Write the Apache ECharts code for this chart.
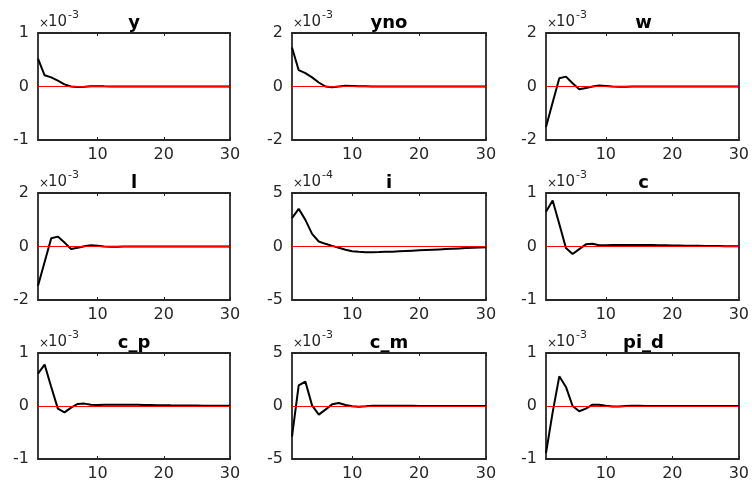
<!DOCTYPE html>
<html>
<head>
<meta charset="utf-8">
<script src="https://cdn.jsdelivr.net/npm/echarts@6/dist/echarts.min.js"></script>
<style>html,body{margin:0;padding:0;background:#fff;}#c{width:752px;height:485px;}</style>
</head>
<body>
<div id="c"></div>
<script>
// ---- data ----
const periods = [1,2,3,4,5,6,7,8,9,10,11,12,13,14,15,16,17,18,19,20,21,22,23,24,25,26,27,28,29,30];
const xTicks = [10, 20, 30];
const names = ['y', 'yno', 'w', 'l', 'i', 'c', 'c_p', 'c_m', 'pi_d'];
const exponents = ['-3', '-3', '-3', '-3', '-4', '-3', '-3', '-3', '-3'];
const yLimits = [1, 2, 2, 2, 5, 1, 1, 5, 1];
// values in units of 10^exponent
const y_vals   = [0.52,0.21,0.17,0.11,0.04,0.0,-0.01,-0.005,0.005,0.005,0.003,0.002,0.001,0.001,0,0,0,0,0,0,0,0,0,0,0,0,0,0,0,0];
const yno_vals = [1.46,0.61,0.50,0.34,0.15,0.0,-0.03,0.0,0.03,0.02,0.01,0.005,0.0,0,0,0,0,0,0,0,0,0,0,0,0,0,0,0,0,0];
const w_vals   = [-1.51,-0.6,0.31,0.37,0.12,-0.1,-0.06,0.0,0.04,0.02,0.0,-0.01,-0.01,0,0,0,0,0,0,0,0,0,0,0,0,0,0,0,0,0];
const l_vals   = [-1.47,-0.58,0.31,0.37,0.15,-0.09,-0.05,0.01,0.05,0.03,0.0,-0.01,-0.01,0,0,0,0,0,0,0,0,0,0,0,0,0,0,0,0,0];
const i_vals   = [2.65,3.52,2.49,1.18,0.47,0.25,0.06,-0.12,-0.3,-0.44,-0.5,-0.53,-0.53,-0.52,-0.50,-0.48,-0.45,-0.42,-0.39,-0.36,-0.33,-0.30,-0.27,-0.24,-0.21,-0.18,-0.15,-0.12,-0.09,-0.07];
const c_vals   = [0.65,0.86,0.42,-0.03,-0.14,-0.05,0.04,0.05,0.025,0.025,0.03,0.03,0.03,0.03,0.03,0.028,0.026,0.024,0.022,0.02,0.018,0.016,0.014,0.012,0.01,0.009,0.008,0.007,0.006,0.005];
const c_p_vals = [0.61,0.78,0.36,-0.05,-0.12,-0.03,0.04,0.045,0.025,0.02,0.025,0.025,0.025,0.024,0.023,0.022,0.02,0.018,0.016,0.014,0.012,0.011,0.01,0.009,0.008,0.007,0.006,0.005,0.004,0.003];
const c_m_vals = [-2.9,1.94,2.3,0.06,-0.81,-0.34,0.16,0.28,0.1,-0.03,-0.06,-0.03,0.02,0.03,0.03,0.03,0.02,0.02,0.02,0.01,0.01,0.01,0.01,0.01,0.01,0,0,0,0,0];
const pi_d_vals= [-0.89,-0.12,0.56,0.36,0.0,-0.1,-0.05,0.025,0.025,0.005,-0.01,-0.01,0.0,0.005,0.005,0,0,0,0,0,0,0,0,0,0,0,0,0,0,0];
const seriesValues = [y_vals, yno_vals, w_vals, l_vals, i_vals, c_vals, c_p_vals, c_m_vals, pi_d_vals];

// ---- layout ----
const colLeft = [38, 292, 546];
const colWidth = [192, 194, 195];
const rowTop = [33, 193, 353];
const rowHeight = [107, 107, 106];
const axisColor = '#262626';
const FONT = 'DejaVu Sans';

const grids = [], xAxes = [], yAxes = [], series = [], graphics = [];
names.forEach((name, k) => {
  const r = Math.floor(k / 3), c = k % 3;
  const L = colLeft[c], T = rowTop[r], W = colWidth[c], H = rowHeight[r];
  grids.push({left: L, top: T, width: W, height: H, containLabel: false});
  const lim = yLimits[k];
  const axLine = {show: true, onZero: false, lineStyle: {color: axisColor, width: 1.8}};
  xAxes.push({
    gridIndex: k, type: 'value', min: 1, max: 30, position: 'bottom',
    axisLine: axLine, splitLine: {show: false},
    axisTick: {show: true, inside: true, length: 3, customValues: xTicks, lineStyle: {color: axisColor, width: 1}},
    axisLabel: {show: true, customValues: xTicks, fontFamily: FONT, fontSize: 16, color: axisColor, margin: 7}
  });
  xAxes.push({
    gridIndex: k, type: 'value', min: 1, max: 30, position: 'top',
    axisLine: axLine, splitLine: {show: false},
    axisTick: {show: true, inside: true, length: 3, customValues: xTicks, lineStyle: {color: axisColor, width: 1}},
    axisLabel: {show: false}
  });
  yAxes.push({
    gridIndex: k, type: 'value', min: -lim, max: lim, interval: lim, position: 'left',
    axisLine: axLine, splitLine: {show: false},
    axisTick: {show: true, inside: true, length: 3, lineStyle: {color: axisColor, width: 1}},
    axisLabel: {show: true, fontFamily: FONT, fontSize: 16, color: axisColor, margin: 9}
  });
  yAxes.push({
    gridIndex: k, type: 'value', min: -lim, max: lim, interval: lim, position: 'right',
    axisLine: axLine, splitLine: {show: false},
    axisTick: {show: true, inside: true, length: 3, lineStyle: {color: axisColor, width: 1}},
    axisLabel: {show: false}
  });
  series.push({
    type: 'line', xAxisIndex: 2 * k, yAxisIndex: 2 * k,
    data: periods.map((p, j) => [p, seriesValues[k][j]]),
    showSymbol: false, symbol: 'none', animation: false, silent: true,
    lineStyle: {color: '#000', width: 2},
    markLine: {
      silent: true, animation: false, symbol: ['none', 'none'],
      label: {show: false},
      lineStyle: {color: '#ff0000', type: 'solid', width: 1},
      data: [{yAxis: 0}]
    }
  });
  // title
  graphics.push({type: 'text', x: L + W / 2, y: T - 1, silent: true,
    style: {text: name, fontFamily: FONT, fontWeight: 'bold', fontSize: 18, fill: '#000', align: 'center', verticalAlign: 'bottom'}});
  // exponent  ×10^e
  graphics.push({type: 'text', x: L + 6, y: T - 9, silent: true,
    style: {text: '×', fontFamily: FONT, fontSize: 12, fill: axisColor, align: 'center', verticalAlign: 'middle'}});
  graphics.push({type: 'text', x: L + 10, y: T - 11, silent: true,
    style: {text: '10', fontFamily: FONT, fontSize: 15, fill: axisColor, align: 'left', verticalAlign: 'middle'}});
  graphics.push({type: 'text', x: L + 30, y: T - 18, silent: true,
    style: {text: exponents[k], fontFamily: FONT, fontSize: 11, fill: axisColor, align: 'left', verticalAlign: 'middle'}});
});

const chart = echarts.init(document.getElementById('c'), null, {renderer: 'canvas'});
chart.setOption({
  backgroundColor: '#ffffff',
  animation: false,
  grid: grids, xAxis: xAxes, yAxis: yAxes, series: series, graphic: graphics
});
</script>
</body>
</html>
